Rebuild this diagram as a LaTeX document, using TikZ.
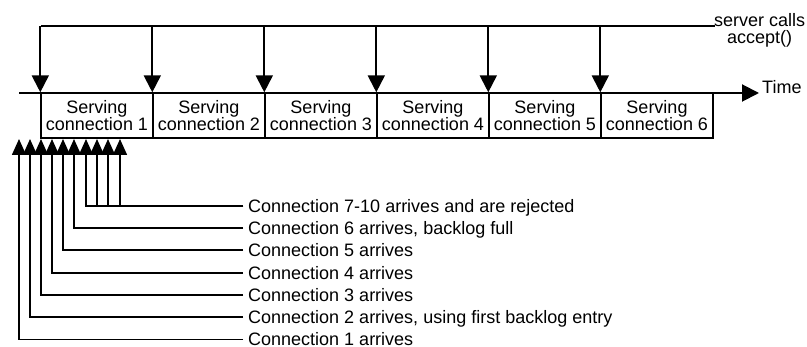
\documentclass[tikz,border=0pt]{standalone}
\usepackage{fontspec}
\setmainfont{Liberation Sans}
\usetikzlibrary{arrows.meta}
\tikzset{
  every node/.style={font=\fontsize{18}{16.5}\selectfont},
  servbox/.style={draw, line width=1.4pt, minimum width=112pt, minimum height=45pt,
    inner sep=0pt, align=center},
  label/.style={anchor=west, inner sep=0pt, inner xsep=5pt, text height=12.6pt, text depth=0pt},
  heavy/.style={line width=2pt},
  drop/.style={heavy, -{Triangle[width=17pt,length=17pt]}},
  rise/.style={line width=1.5pt, -{Triangle[width=14pt,length=16pt]}},
}
\begin{document}
\begin{tikzpicture}[x=1pt,y=-1pt]
\useasboundingbox (0,0) rectangle (807,347);

% time axis
\coordinate (t0) at (19,93);
\node[anchor=west, inner sep=0pt, inner xsep=3pt, text height=12.6pt, text depth=0pt] (time) at (759,87) {Time};
\draw[heavy, -{Triangle[width=17pt,length=17pt]}] (t0) -- (time.west |- t0);

% service slots
\foreach \i in {1,...,6} {
  \node[servbox] (s\i) at ({41+56+112*(\i-1)},115.5) {Serving\\connection \i};
}

% accept() calls
\node[align=center, inner sep=0pt, anchor=north west] (acc) at (714,13.5) {server calls\\accept()};
\coordinate (top0) at (41,26);
\coordinate (topend) at (715,26);
\draw[heavy] (top0) -- (topend);
\foreach \i in {1,...,6} {
  \draw[drop] (top0 -| s\i.north west) -- (s\i.north west);
}

% arrival labels
\node[label] (l7) at (243,206) {Connection 7-10 arrives and are rejected};
\node[label] (l6) at (243,228) {Connection 6 arrives, backlog full};
\node[label] (l5) at (243,250) {Connection 5 arrives};
\node[label] (l4) at (243,273) {Connection 4 arrives};
\node[label] (l3) at (243,295) {Connection 3 arrives};
\node[label] (l2) at (243,317) {Connection 2 arrives, using first backlog entry};
\node[label] (l1) at (243,339.5) {Connection 1 arrives};

% arrival points under the first slot
\coordinate (a1) at (19,139);
\coordinate (a2) at (30,139);
\coordinate (a3) at (41,139);
\coordinate (a4) at (52,139);
\coordinate (a5) at (63,139);
\coordinate (a6) at (74,139);
\coordinate (a7) at (86,139);
\coordinate (a8) at (97,139);
\coordinate (a9) at (108,139);
\coordinate (a10) at (120,139);

\draw[rise] (l1.west) -| (a1);
\draw[rise] (l2.west) -| (a2);
\draw[rise] (l3.west) -| (a3);
\draw[rise] (l4.west) -| (a4);
\draw[rise] (l5.west) -| (a5);
\draw[rise] (l6.west) -| (a6);
\foreach \k in {7,...,10} {
  \draw[rise] (l7.west) -| (a\k);
}
\end{tikzpicture}
\end{document}
